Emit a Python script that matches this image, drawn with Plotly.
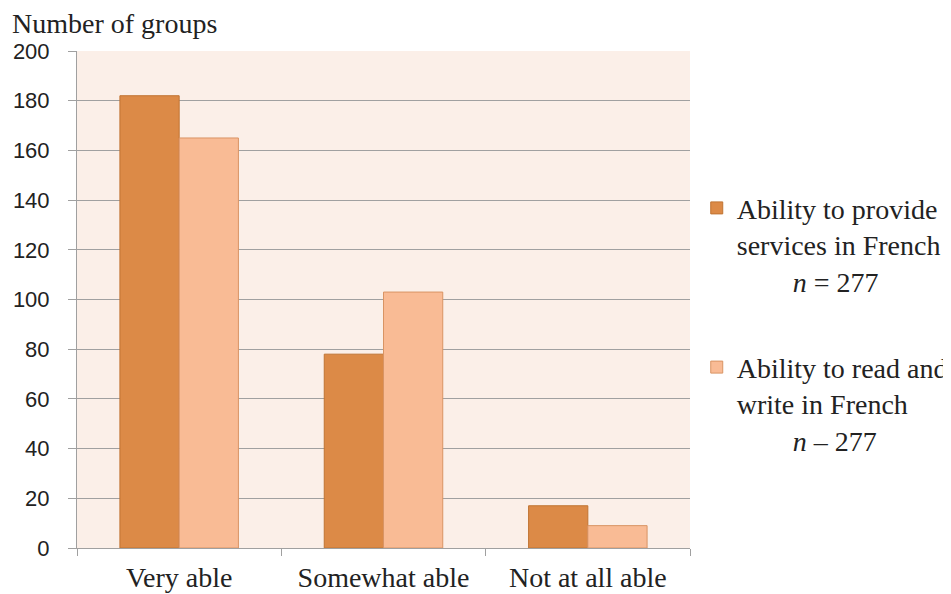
import plotly.graph_objects as go

categories = ["Very able", "Somewhat able", "Not at all able"]
provide_services = [182, 78, 17]
read_write = [165, 103, 9]
indent = "\u00a0" * 8
series_names = [
    "Ability to provide<br>services in French<br>" + indent + "<i>n</i> = 277",
    "Ability to read and<br>write in French<br>" + indent + "<i>n</i> – 277",
]
y_ticks = [0, 20, 40, 60, 80, 100, 120, 140, 160, 180, 200]

serif = "Liberation Serif, Times New Roman, serif"
sans = "Liberation Sans, Arial, sans-serif"

fig = go.Figure()
fig.add_trace(go.Bar(
    x=categories, y=provide_services, name=series_names[0],
    marker=dict(color="#DC8A47", line=dict(color="#C07432", width=1)),
    legendgroup="a",
))
fig.add_trace(go.Bar(
    x=categories, y=read_write, name=series_names[1],
    marker=dict(color="#F9BB95", line=dict(color="#D99464", width=1)),
    legendgroup="b",
))

# page body has an 8px default margin, so the figure is sized to fit the window
fig.update_layout(
    width=943, height=586,
    margin=dict(l=69, r=261, t=43, b=46, autoexpand=False),
    paper_bgcolor="white",
    plot_bgcolor="#FBEFE8",
    barmode="group",
    bargap=0.42,
    bargroupgap=0,
    showlegend=True,
    legend=dict(
        x=1.011, y=0.734, xanchor="left", yanchor="top",
        font=dict(family=serif, size=28, color="#222"),
        tracegroupgap=47,
        valign="top",
        bgcolor="rgba(0,0,0,0)",
    ),
    annotations=[dict(
        text="Number of groups", xref="paper", yref="paper",
        x=-0.11, y=1.09, xanchor="left", yanchor="top",
        showarrow=False, font=dict(family=serif, size=28, color="#222"),
    )],
)
fig.update_xaxes(
    type="category",
    automargin=False,
    tickson="boundaries",
    ticks="outside", ticklen=7, tickcolor="#A0A0A0", tickwidth=1,
    ticklabelstandoff=4,
    showline=True, linecolor="#A0A0A0", linewidth=1,
    showgrid=False,
    tickfont=dict(family=serif, size=28, color="#222"),
)
fig.update_yaxes(
    automargin=False,
    range=[0, 200],
    tickvals=y_ticks,
    ticks="outside", ticklen=8, tickcolor="#A0A0A0",
    ticklabelstandoff=14,
    showline=True, linecolor="#A0A0A0", linewidth=1,
    showgrid=True, gridcolor="#A0A0A0", gridwidth=1,
    zeroline=False,
    tickfont=dict(family=sans, size=22, color="#222"),
)

fig.write_html("out.html")
